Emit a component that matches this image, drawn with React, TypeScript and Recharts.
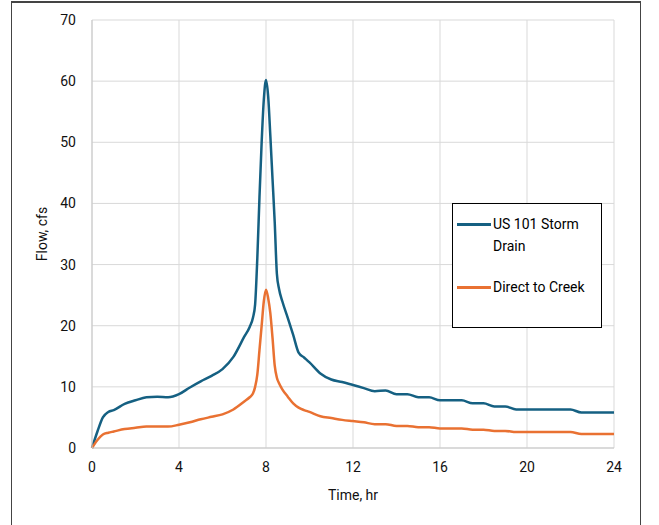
import {
  LineChart,
  Line,
  XAxis,
  YAxis,
  CartesianGrid,
  Legend,
} from "recharts";

const timeHr = [
  0, 0.25, 0.5, 0.75, 1, 1.5, 2, 2.5, 3, 3.5, 4, 4.5, 5, 5.5, 6, 6.5, 7, 7.25, 7.4, 7.5,
  7.6, 7.7, 7.8, 7.9, 8, 8.1, 8.2, 8.3, 8.4, 8.5, 8.6, 8.75, 9, 9.25, 9.5, 9.75, 10,
  10.5, 11, 11.5, 12, 12.5, 13, 13.5, 14, 14.5, 15, 15.5, 16, 16.5, 17, 17.5, 18, 18.5,
  19, 19.5, 20, 20.5, 21, 21.5, 22, 22.5, 23, 23.5, 24,
];

const stormDrain = [
  0, 2.7, 5.0, 5.9, 6.2, 7.2, 7.8, 8.3, 8.4, 8.3, 8.8, 9.9, 10.9, 11.8, 12.9, 14.9, 18.2,
  19.8, 21.3, 23.5, 31, 41, 50, 57, 60.2, 57.5, 51, 44, 37, 28.5, 26, 24, 21.3, 18.5,
  15.6, 14.8, 14.0, 12.2, 11.2, 10.8, 10.3, 9.8, 9.3, 9.4, 8.8, 8.8, 8.3, 8.3, 7.8, 7.8,
  7.8, 7.3, 7.3, 6.8, 6.8, 6.3, 6.3, 6.3, 6.3, 6.3, 6.3, 5.8, 5.8, 5.8, 5.8,
];

const directToCreek = [
  0, 1.3, 2.2, 2.5, 2.7, 3.1, 3.3, 3.5, 3.5, 3.5, 3.8, 4.2, 4.7, 5.1, 5.5, 6.3, 7.6, 8.3,
  8.9, 10, 12, 16, 20, 24, 25.9, 24.5, 22, 18, 13.5, 11.5, 10.6, 9.6, 8.4, 7.3, 6.6, 6.2,
  5.9, 5.2, 4.9, 4.6, 4.4, 4.2, 3.9, 3.9, 3.6, 3.6, 3.4, 3.4, 3.2, 3.2, 3.2, 3.0, 3.0,
  2.8, 2.8, 2.6, 2.6, 2.6, 2.6, 2.6, 2.6, 2.3, 2.3, 2.3, 2.3,
];

const seriesNames = ["US 101 Storm Drain", "Direct to Creek"];
const xTicks = [0, 4, 8, 12, 16, 20, 24];
const yTicks = [0, 10, 20, 30, 40, 50, 60, 70];

const chartData = timeHr.map((t, i) => ({
  t,
  storm: stormDrain[i],
  creek: directToCreek[i],
}));

const FONT = "Roboto, 'Liberation Sans', sans-serif";

// boxed legend like the Excel original, kept in series order
const BoxLegend = ({ payload }: any) => {
  const items = [...(payload || [])].sort(
    (a: any, b: any) => seriesNames.indexOf(a.value) - seriesNames.indexOf(b.value)
  );
  return (
    <div
      style={{
        width: 150,
        height: 125,
        boxSizing: "border-box",
        border: "1px solid #000",
        background: "#fff",
        fontFamily: FONT,
        fontSize: 14,
        color: "#000",
        paddingTop: 9,
      }}
    >
      {items.map((p: any, i: number) => (
        <div
          key={p.value}
          style={{ display: "flex", alignItems: "flex-start", marginBottom: i === 0 ? 19 : 0 }}
        >
          <div
            style={{
              width: 34,
              height: 2.5,
              background: p.color,
              marginLeft: 4,
              marginTop: 10,
              flexShrink: 0,
            }}
          />
          <div style={{ width: 108, lineHeight: "22px", paddingLeft: 2 }}>{p.value}</div>
        </div>
      ))}
    </div>
  );
};

export default function App() {
  return (
    <div
      style={{
        position: "absolute",
        left: 0,
        top: 0,
        width: 659,
        height: 525,
        overflow: "hidden",
        background: "#fff",
      }}
    >
      <div
        style={{
          position: "absolute",
          left: 11,
          top: 1,
          width: 628,
          height: 560,
          borderLeft: "1.5px solid #444",
          borderRight: "1.5px solid #444",
          borderTop: "2px solid #444",
        }}
      />
      <LineChart
        width={659}
        height={525}
        data={chartData}
        margin={{ top: 20, right: 45, left: 0, bottom: 0 }}
        style={{ position: "absolute", left: 0, top: 0 }}
      >
        <CartesianGrid stroke="#d9d9d9" strokeWidth={1} />
        <XAxis
          dataKey="t"
          type="number"
          domain={[0, 24]}
          ticks={xTicks}
          height={77}
          tickSize={0}
          tickMargin={14}
          stroke="#c8c8c8"
          tick={{ fill: "#111", fontSize: 14, fontFamily: FONT }}
          label={{
            value: "Time, hr",
            position: "insideTop",
            offset: 42,
            style: { fill: "#111", fontSize: 14, fontFamily: FONT },
          }}
        />
        <YAxis
          type="number"
          domain={[0, 70]}
          ticks={yTicks}
          width={92}
          tickSize={0}
          tickMargin={16}
          stroke="#c8c8c8"
          tick={{ fill: "#111", fontSize: 14, fontFamily: FONT }}
          label={{
            value: "Flow, cfs",
            angle: -90,
            position: "insideLeft",
            offset: 42,
            style: { fill: "#111", fontSize: 14, fontFamily: FONT, textAnchor: "middle" },
          }}
        />
        <Legend
          layout="vertical"
          align="center"
          verticalAlign="middle"
          content={<BoxLegend />}
          wrapperStyle={{ left: 452, top: 203, width: 150, height: 125 }}
        />
        <Line
          name={seriesNames[0]}
          dataKey="storm"
          type="monotone"
          stroke="#156082"
          strokeWidth={2.5}
          dot={false}
          isAnimationActive={false}
        />
        <Line
          name={seriesNames[1]}
          dataKey="creek"
          type="monotone"
          stroke="#E97132"
          strokeWidth={2.5}
          dot={false}
          isAnimationActive={false}
        />
      </LineChart>
    </div>
  );
}
